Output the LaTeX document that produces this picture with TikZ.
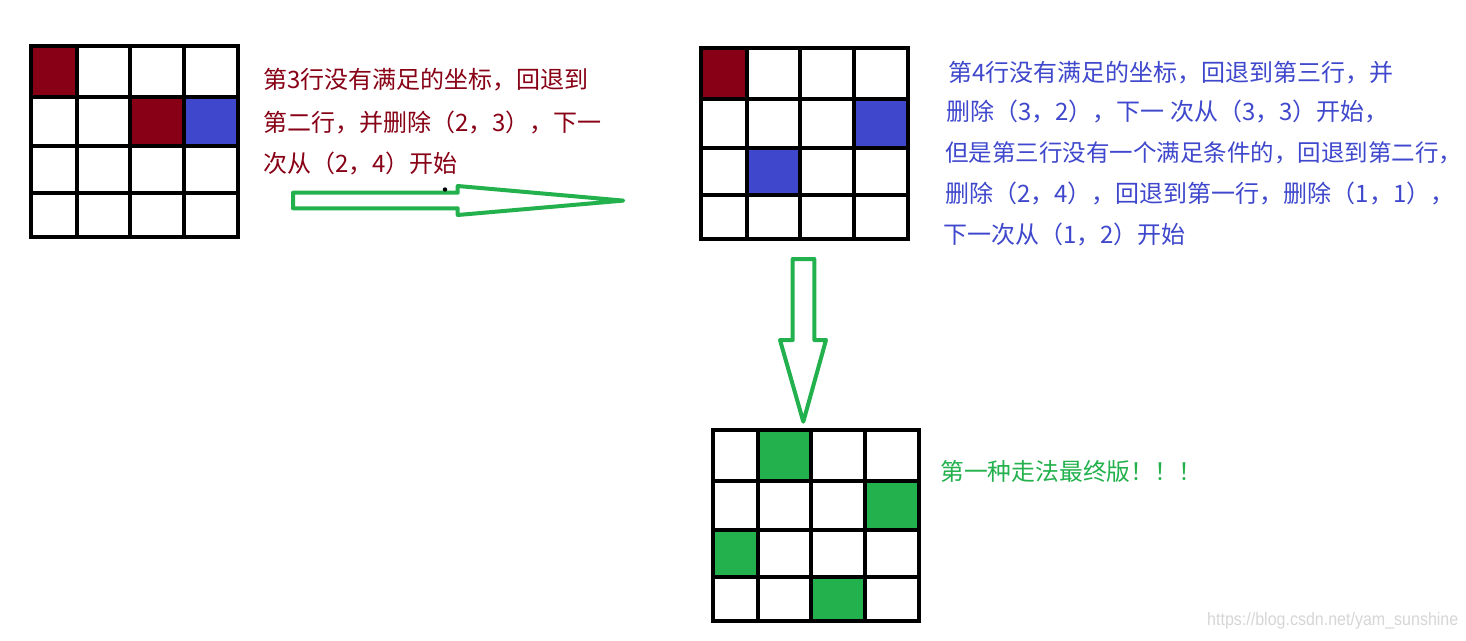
\documentclass[tikz,border=0pt]{standalone}
\usepackage{fontspec}
\setmainfont{Liberation Sans}
\newfontfamily\cjk{Noto Sans CJK SC}
\definecolor{dred}{HTML}{880015}
\definecolor{pblue}{HTML}{3F48CC}
\definecolor{pgreen}{HTML}{22B14C}
\definecolor{wmgray}{HTML}{D6D6D6}
\begin{document}
\begin{tikzpicture}[x=1pt,y=-1pt,
  gridline/.style={line width=4pt, black, line cap=rect},
  blockarrow/.style={draw=pgreen, line width=4pt, fill=white, line join=round},
  note/.style={anchor=west, inner sep=0pt, font=\cjk\fontsize{24}{24}\selectfont},
  narrownote/.style={anchor=west, inner sep=0pt, font=\cjk\fontsize{23.5}{23.5}\selectfont},
  greennote/.style={anchor=west, inner sep=0pt, font=\cjk\fontsize{23.8}{23.8}\selectfont},
]
\fill[white] (0,0) rectangle (1466,640);
\useasboundingbox (0,0) rectangle (1466,640);

% ---- grid 1
\fill[dred] (31,46) rectangle (77,97);
\fill[dred] (130,97) rectangle (184,146);
\fill[pblue] (184,97) rectangle (238,146);
\foreach \x in {31,77,130,184,238} \draw[gridline] (\x,46) -- (\x,237);
\foreach \y in {46,97,146,193,237} \draw[gridline] (31,\y) -- (238,\y);

% ---- grid 2
\fill[dred] (701,48) rectangle (747,99);
\fill[pblue] (854,99) rectangle (908,148);
\fill[pblue] (747,148) rectangle (800,195);
\foreach \x in {701,747,800,854,908} \draw[gridline] (\x,48) -- (\x,239);
\foreach \y in {48,99,148,195,239} \draw[gridline] (701,\y) -- (908,\y);

% ---- grid 3
\fill[pgreen] (758,430) rectangle (811,481);
\fill[pgreen] (865,481) rectangle (919,530);
\fill[pgreen] (713,530) rectangle (758,577);
\fill[pgreen] (811,577) rectangle (865,621);
\foreach \x in {713,758,811,865,919} \draw[gridline] (\x,430) -- (\x,621);
\foreach \y in {430,481,530,577,621} \draw[gridline] (713,\y) -- (919,\y);

% ---- block arrows
\draw[blockarrow] (293,192.7) -- (457.7,192.7) -- (457.7,186) -- (623.3,200.6)
  -- (457.7,215) -- (457.7,208.3) -- (293,208.3) -- cycle;
\fill[black] (445,189.5) circle (2.2);
\draw[blockarrow] (792.7,259) -- (814.3,259) -- (814.3,340) -- (826,340)
  -- (803.3,421.7) -- (780,340) -- (792.7,340) -- cycle;

% ---- texts
\node[note, text=dred] (t1a) at (263,80) {第3行没有满足的坐标，回退到};
\node[note, text=dred] (t1b) at (263,123) {第二行，并删除（2，3），下一};
\node[note, text=dred] (t1c) at (263,164) {次从（2，4）开始};

\node[note, text=pblue] (t2a) at (948,73) {第4行没有满足的坐标，回退到第三行，并};
\node[note, text=pblue] (t2b) at (946,112) {删除（3，2），下一 次从（3，3）开始，};
\node[narrownote, text=pblue] (t2c) at (945,153) {但是第三行没有一个满足条件的，回退到第二行，};
\node[note, text=pblue] (t2d) at (945,194) {删除（2，4），回退到第一行，删除（1，1），};
\node[note, text=pblue] (t2e) at (943,235) {下一次从（1，2）开始};

\node[greennote, text=pgreen] (t3) at (940,471) {第一种走法最终版！！！};

\node[anchor=west, inner sep=0pt, text=wmgray, font=\fontsize{18}{18}\selectfont, xscale=0.89]
  (wm) at (1207,621) {https://blog.csdn.net/yam\_sunshine};
\end{tikzpicture}
\end{document}
